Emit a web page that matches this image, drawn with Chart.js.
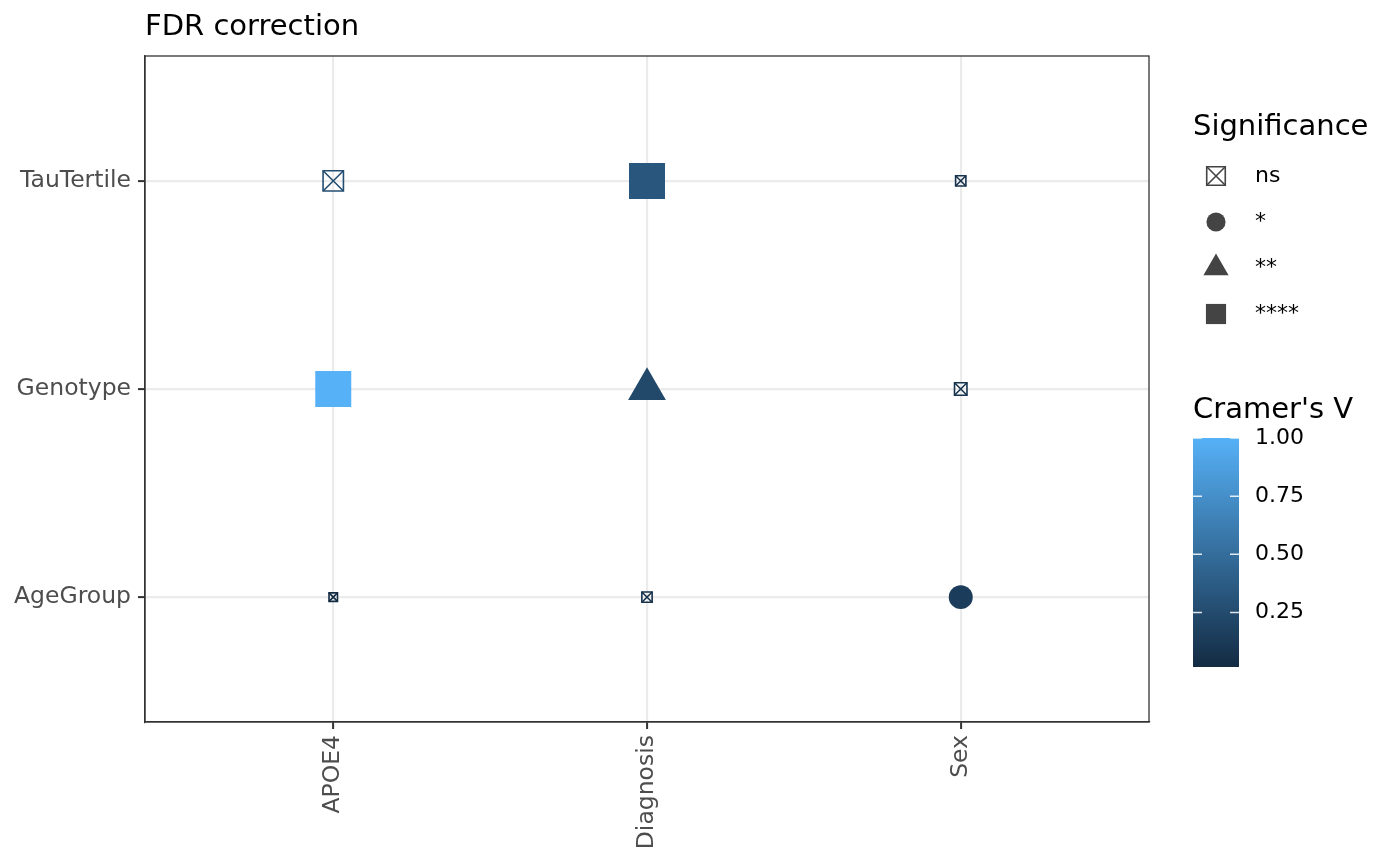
<!DOCTYPE html>
<html>
<head>
<meta charset="utf-8">
<title>FDR correction</title>
<script src="https://cdn.jsdelivr.net/npm/chart.js@4.4.1/dist/chart.umd.min.js"></script>
<style>
  html, body { margin: 0; padding: 0; background: #fff; }
  #wrap { width: 1400px; height: 866px; position: relative; }
</style>
</head>
<body>
<div id="wrap"><canvas id="fdrChart"></canvas></div>
<script>
// Categorías de los ejes
const xCategories = ['APOE4', 'Diagnosis', 'Sex'];
const yCategories = ['AgeGroup', 'Genotype', 'TauTertile'];

// Un valor por cada par de variables
const pairX = ['APOE4', 'Diagnosis', 'Sex', 'APOE4', 'Diagnosis', 'Sex', 'APOE4', 'Diagnosis', 'Sex'];
const pairY = ['TauTertile', 'TauTertile', 'TauTertile', 'Genotype', 'Genotype', 'Genotype', 'AgeGroup', 'AgeGroup', 'AgeGroup'];
const cramersV = [0.27, 0.33, 0.07, 1.00, 0.23, 0.08, 0.016, 0.05, 0.14];
const significance = ['ns', '****', 'ns', '****', '**', 'ns', 'ns', 'ns', '*'];
// tamaño relativo del símbolo (1 = el más grande)
const markerSize = [0.61, 1.00, 0.33, 1.00, 0.84, 0.39, 0.28, 0.33, 0.70];

// Leyendas
const sigLevels = ['ns', '*', '**', '****'];
const colorbarTicks = [0.25, 0.50, 0.75, 1.00];

// Escala de color (gradiente por defecto de ggplot)
const lowColor = [19, 43, 67];
const highColor = [86, 177, 247];
const vMin = Math.min(...cramersV);
const vMax = Math.max(...cramersV);

function colorV(v) {
  const t = Math.max(0, Math.min(1, (v - vMin) / (vMax - vMin)));
  const c = lowColor.map((lo, k) => Math.round(lo + (highColor[k] - lo) * t));
  return `rgb(${c[0]},${c[1]},${c[2]})`;
}

const MAX_SIDE = 36;
const NS_LINE = 1.6;

// Radio de Chart.js según la forma
function radiusFor(sig, s) {
  const side = s * MAX_SIDE;
  if (sig === 'ns') return (side - NS_LINE) / Math.SQRT2;
  if (sig === '*') return side * 0.95 / 2;
  if (sig === '**') return side * 1.25 / Math.sqrt(3);
  return side / Math.SQRT2;
}

function pointsFor(level) {
  return cramersV
    .map((v, i) => i)
    .filter(i => significance[i] === level)
    .map(i => ({
      x: xCategories.indexOf(pairX[i]),
      y: yCategories.indexOf(pairY[i]),
      v: cramersV[i],
      s: markerSize[i]
    }));
}

Chart.defaults.font.family = '"DejaVu Sans", sans-serif';

const datasets = [
  { // ns: cuadrado vacío
    data: pointsFor('ns'),
    pointStyle: 'rect',
    pointRadius: c => radiusFor('ns', c.raw.s),
    pointBackgroundColor: 'rgba(0,0,0,0)',
    pointBorderColor: c => colorV(c.raw.v),
    pointBorderWidth: NS_LINE
  },
  { // ns: la cruz
    data: pointsFor('ns'),
    pointStyle: 'crossRot',
    pointRadius: c => radiusFor('ns', c.raw.s),
    pointBorderColor: c => colorV(c.raw.v),
    pointBorderWidth: NS_LINE
  },
  {
    data: pointsFor('*'),
    pointStyle: 'circle',
    pointRadius: c => radiusFor('*', c.raw.s),
    pointBackgroundColor: c => colorV(c.raw.v),
    pointBorderWidth: 0
  },
  {
    data: pointsFor('**'),
    pointStyle: 'triangle',
    pointRadius: c => radiusFor('**', c.raw.s),
    pointBackgroundColor: c => colorV(c.raw.v),
    pointBorderWidth: 0
  },
  {
    data: pointsFor('****'),
    pointStyle: 'rect',
    pointRadius: c => radiusFor('****', c.raw.s),
    pointBackgroundColor: c => colorV(c.raw.v),
    pointBorderWidth: 0
  }
];

// Título, borde del panel y leyendas
const extrasPlugin = {
  id: 'extras',
  afterDraw(chart) {
    const ctx = chart.ctx;
    const area = chart.chartArea;
    const H = Chart.helpers;
    ctx.save();

    ctx.strokeStyle = '#333333';
    ctx.lineWidth = 1.3;
    ctx.strokeRect(area.left, area.top, area.right - area.left, area.bottom - area.top);

    ctx.fillStyle = '#000';
    ctx.textAlign = 'left';
    ctx.textBaseline = 'middle';
    ctx.font = '29px "DejaVu Sans"';
    ctx.fillText('FDR correction', area.left, 27);

    // Leyenda de significancia
    const lx = 1193;
    ctx.fillText('Significance', lx, 127);
    const legendSize = 0.56;
    sigLevels.forEach((lvl, k) => {
      const y = 176 + k * 46;
      const x = 1216;
      const r = radiusFor(lvl, legendSize);
      ctx.strokeStyle = '#444444';
      ctx.fillStyle = '#444444';
      ctx.lineWidth = NS_LINE;
      if (lvl === 'ns') {
        ctx.fillStyle = 'rgba(0,0,0,0)';
        H.drawPoint(ctx, { pointStyle: 'rect', radius: r, rotation: 0, borderWidth: NS_LINE }, x, y);
        H.drawPoint(ctx, { pointStyle: 'crossRot', radius: r, rotation: 0, borderWidth: NS_LINE }, x, y);
      } else {
        const style = lvl === '*' ? 'circle' : (lvl === '**' ? 'triangle' : 'rect');
        H.drawPoint(ctx, { pointStyle: style, radius: r, rotation: 0, borderWidth: 0 }, x, y);
      }
      ctx.fillStyle = '#000';
      ctx.font = '22px "DejaVu Sans"';
      ctx.fillText(lvl, 1255, y);
    });

    // Barra de color
    ctx.font = '29px "DejaVu Sans"';
    ctx.fillText("Cramer's V", lx, 410);
    const cbW = 46, cbTop = 438, cbBottom = 667;
    const grad = ctx.createLinearGradient(0, cbBottom, 0, cbTop);
    grad.addColorStop(0, colorV(vMin));
    grad.addColorStop(1, colorV(vMax));
    ctx.fillStyle = grad;
    ctx.fillRect(lx, cbTop, cbW, cbBottom - cbTop);
    const yOfV = v => cbBottom - (v - vMin) / (vMax - vMin) * (cbBottom - cbTop);
    ctx.strokeStyle = 'rgba(255,255,255,0.85)';
    ctx.lineWidth = 1.5;
    ctx.font = '22px "DejaVu Sans"';
    colorbarTicks.forEach(t => {
      const y = yOfV(t);
      ctx.beginPath();
      ctx.moveTo(lx, y); ctx.lineTo(lx + 9, y);
      ctx.moveTo(lx + cbW - 9, y); ctx.lineTo(lx + cbW, y);
      ctx.stroke();
      ctx.fillStyle = '#000';
      ctx.fillText(t.toFixed(2), 1255, y);
    });
    ctx.restore();
  }
};

const axisCommon = {
  type: 'linear',
  min: -0.6,
  max: 2.6,
  grid: {
    color: '#EBEBEB',
    lineWidth: 2.2,
    drawTicks: true,
    tickLength: 7,
    tickColor: '#333333',
    tickWidth: 2
  },
  border: { display: true, color: '#333333', width: 1.3 }
};

new Chart(document.getElementById('fdrChart'), {
  type: 'scatter',
  data: { datasets: datasets },
  options: {
    responsive: true,
    maintainAspectRatio: false,
    animation: false,
    events: [],
    layout: { padding: { top: 56, right: 251, bottom: 0, left: 0 } },
    plugins: { legend: { display: false }, tooltip: { enabled: false } },
    scales: {
      x: {
        ...axisCommon,
        afterBuildTicks: s => { s.ticks = xCategories.map((_, i) => ({ value: i })); },
        afterFit: s => { s.height = 144; },
        ticks: {
          autoSkip: false,
          minRotation: 90,
          maxRotation: 90,
          padding: 6,
          color: '#4D4D4D',
          font: { size: 23.5 },
          callback: v => xCategories[v]
        }
      },
      y: {
        ...axisCommon,
        afterBuildTicks: s => { s.ticks = yCategories.map((_, i) => ({ value: i })); },
        afterFit: s => { s.width = 145; },
        ticks: {
          autoSkip: false,
          padding: 7,
          color: '#4D4D4D',
          font: { size: 23.5 },
          callback: v => yCategories[v]
        }
      }
    }
  },
  plugins: [extrasPlugin]
});
</script>
</body>
</html>
